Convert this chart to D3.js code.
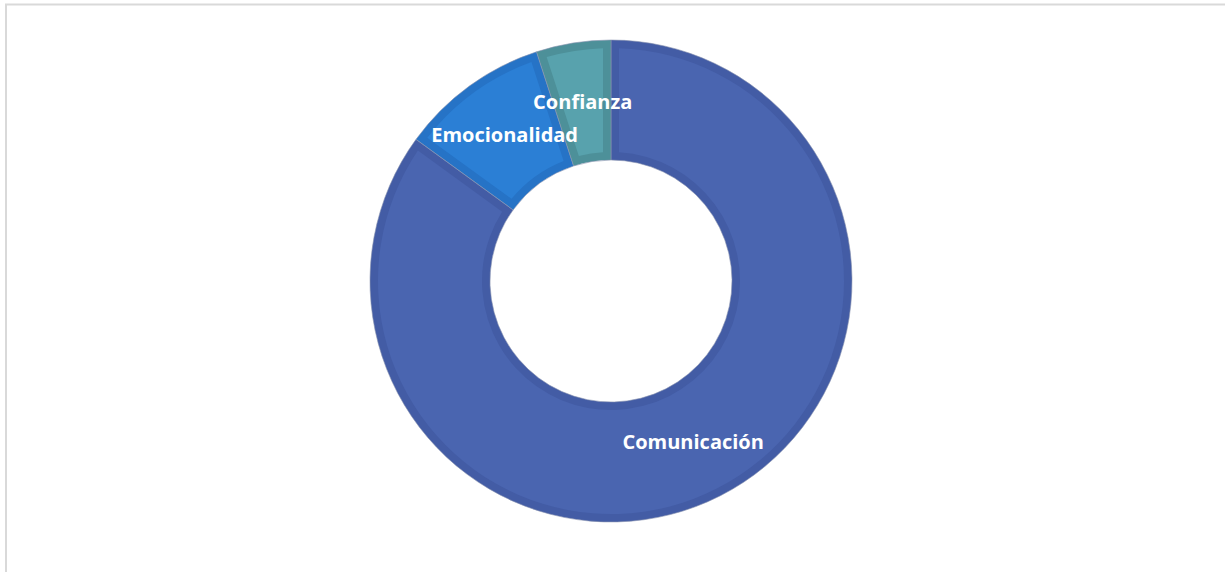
<html>
<head>
  <meta charset="utf-8">
  <script src="https://d3js.org/d3.v7.min.js"></script>
  <style>
    body { margin: 0; background: white; }
    .label { font-family: "Open Sans", sans-serif; font-weight: bold; font-size: 20px; fill: white; }
  </style>
</head>
<body>
  <svg id="chart" width="1225" height="572"></svg>
  <script>
    var categories = ["Comunicación", "Emocionalidad", "Confianza"];
    var values = [85, 10, 5];
    var edgeColors = ["#435ca5", "#2673c6", "#4d9099"];
    var fillColors = ["#4a65b0", "#2b7fd5", "#58a2ad"];

    var svg = d3.select("#chart");
    var cx = 611, cy = 281, outerR = 241, innerR = 121;

    // frame of the chart area
    svg.append("path")
      .attr("d", "M6,572 V4.5 H1225")
      .attr("fill", "none")
      .attr("stroke", "#d9d9d9")
      .attr("stroke-width", 2);

    var data = categories.map((c, i) => ({ name: c, value: values[i], i: i }));

    var pie = d3.pie().sort(null).value(d => d.value);
    var arcs = pie(data);

    var arc = d3.arc().innerRadius(innerR).outerRadius(outerR);
    var innerArc = d3.arc().innerRadius(innerR + 8).outerRadius(outerR - 8)
      .padRadius(100).padAngle(0.16);

    var g = svg.append("g").attr("transform", "translate(" + cx + "," + cy + ")");

    g.selectAll(".slice")
      .data(arcs)
      .enter()
      .append("path")
      .attr("class", "slice")
      .attr("d", arc)
      .attr("fill", d => edgeColors[d.data.i])
      .attr("stroke", "#8a94b0")
      .attr("stroke-width", 0.6);

    g.selectAll(".inner")
      .data(arcs)
      .enter()
      .append("path")
      .attr("class", "inner")
      .attr("d", innerArc)
      .attr("fill", d => fillColors[d.data.i]);

    g.selectAll(".label")
      .data(arcs)
      .enter()
      .append("text")
      .attr("class", "label")
      .attr("x", d => arc.centroid(d)[0])
      .attr("y", d => arc.centroid(d)[1])
      .attr("dy", "0.35em")
      .attr("text-anchor", "middle")
      .text(d => d.data.name);
  </script>
</body>
</html>
